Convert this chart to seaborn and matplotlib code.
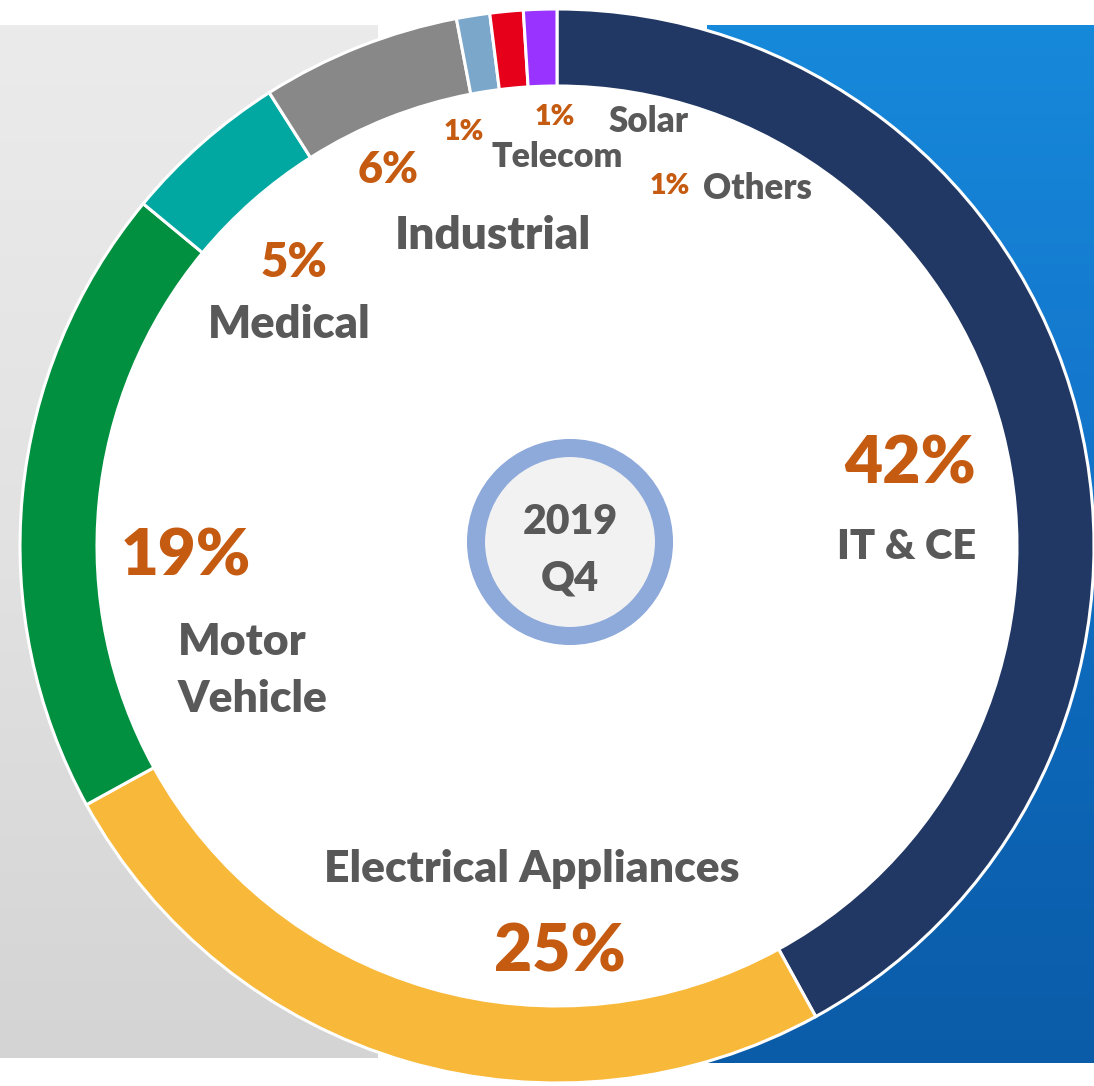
import numpy as np
import matplotlib
matplotlib.use("Agg")
import matplotlib.pyplot as plt
from matplotlib.patches import Circle
from matplotlib.colors import LinearSegmentedColormap
import seaborn as sns

# ---- data ----
segments = ["IT & CE", "Electrical Appliances", "Motor Vehicle", "Medical",
            "Industrial", "Telecom", "Solar", "Others"]
shares = [42, 25, 19, 5, 6, 1, 1, 1]
seg_colors = ["#213864", "#F8B839", "#00903F", "#00A8A1",
              "#888888", "#7BA7CB", "#E6001A", "#9933FF"]
center_text = ["2019", "Q4"]

# ---- style ----
sns.set_theme(style="white")
plt.rcParams["font.family"] = ["Lato", "DejaVu Sans"]
PCT = "#C55A11"
TXT = "#595959"
WT = "heavy"

W, H = 1094, 1086
fig = plt.figure(figsize=(W / 100, H / 100), dpi=100)
ax = fig.add_axes([0, 0, 1, 1])


def fy(y):
    # pixel row (from top) -> data y
    return H - y


def label(x, y, s, size, color, ha="center"):
    ax.text(x, fy(y), s, ha=ha, va="baseline", fontsize=size,
            fontweight=WT, color=color, zorder=4)


# background panels
gray = LinearSegmentedColormap.from_list("g", ["#EBEBEB", "#E2E2E2", "#D4D4D4"])
blue = LinearSegmentedColormap.from_list("b", ["#1789DA", "#1479CE", "#0D67B8", "#0B5CA8"])
grad = np.linspace(0, 1, 256).reshape(-1, 1)
ax.imshow(grad, cmap=gray, extent=(0, 378, fy(1058), fy(25)), aspect="auto",
          origin="upper", zorder=0)
ax.imshow(grad, cmap=blue, extent=(707, W, fy(1063), fy(25)), aspect="auto",
          origin="upper", zorder=0)

# donut
cx, cy, R, ring = 557, 546, 537, 77
ax.add_patch(Circle((cx, fy(cy)), R - ring, fc="white", ec="none", zorder=0.5))
ax.pie(shares, colors=seg_colors, startangle=90, counterclock=False,
       radius=R, center=(cx, fy(cy)),
       wedgeprops=dict(width=ring, edgecolor="white", linewidth=2.2))

# centre badge
ax.add_patch(Circle((570, fy(542)), 94, fc="#F2F2F2", ec="#8EAADB", lw=13, zorder=3))
label(570, 534, center_text[0], 29.5, TXT)
label(570, 590, center_text[1], 30, TXT)

pct = [f"{v}%" for v in shares]

label(910, 483, pct[0], 47.5, PCT)
label(907, 559, segments[0], 30, TXT)

label(532, 882, segments[1], 32, TXT)
label(560, 972, pct[1], 47.5, PCT)

label(186, 575, pct[2], 47, PCT)
label(178, 655, "Motor", 32, TXT, ha="left")
label(178, 712, "Vehicle", 32, TXT, ha="left")

label(294, 277, pct[3], 34, PCT)
label(289, 338, segments[3], 32.5, TXT)

label(388, 183, pct[4], 31, PCT)
label(493, 249, segments[4], 33, TXT)

label(464, 140, pct[5], 20.5, PCT)
label(557, 167, segments[5], 24.5, TXT)

label(555, 125, pct[6], 20.5, PCT)
label(648, 132, segments[6], 25, TXT)

label(670, 194, pct[7], 20.5, PCT)
label(757, 199, segments[7], 25, TXT)

ax.set_xlim(0, W)
ax.set_ylim(0, H)
ax.set_aspect("auto")
ax.set_axis_off()

fig.savefig("out.png", dpi=100, facecolor="white")
